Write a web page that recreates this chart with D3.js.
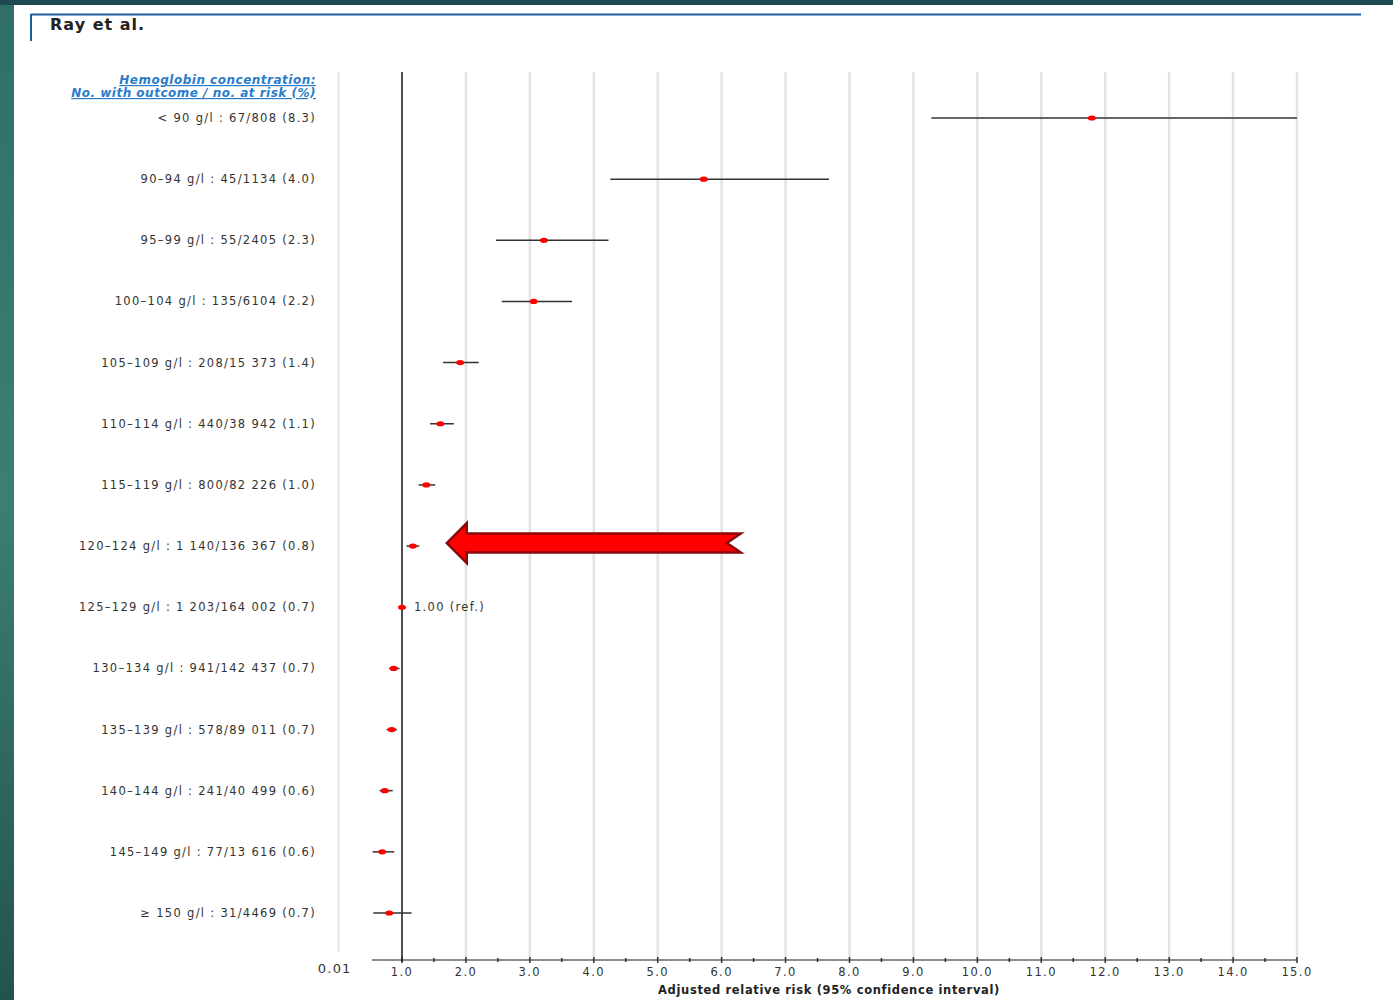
<!DOCTYPE html>
<html>
<head>
<meta charset="utf-8">
<script src="https://cdn.jsdelivr.net/npm/d3@7"></script>
<style>
  body { margin: 0; background: #fff; }
  svg { display: block; font-family: "DejaVu Sans", Verdana, sans-serif; }
</style>
</head>
<body>
<svg id="chart" width="1393" height="1000"></svg>
<script>
// hemoglobin groups, top to bottom
var groups = ["< 90", "90–94", "95–99", "100–104", "105–109", "110–114", "115–119",
              "120–124", "125–129", "130–134", "135–139", "140–144", "145–149", "≥ 150"];
var labels = [
  "< 90 g/l : 67/808 (8.3)",
  "90–94 g/l : 45/1134 (4.0)",
  "95–99 g/l : 55/2405 (2.3)",
  "100–104 g/l : 135/6104 (2.2)",
  "105–109 g/l : 208/15 373 (1.4)",
  "110–114 g/l : 440/38 942 (1.1)",
  "115–119 g/l : 800/82 226 (1.0)",
  "120–124 g/l : 1 140/136 367 (0.8)",
  "125–129 g/l : 1 203/164 002 (0.7)",
  "130–134 g/l : 941/142 437 (0.7)",
  "135–139 g/l : 578/89 011 (0.7)",
  "140–144 g/l : 241/40 499 (0.6)",
  "145–149 g/l : 77/13 616 (0.6)",
  "≥ 150 g/l : 31/4469 (0.7)"
];
var rr   = [11.79, 5.72, 3.22, 3.06, 1.91, 1.60, 1.38, 1.17, 1.00, 0.87, 0.84, 0.73, 0.69, 0.80];
var low  = [9.28, 4.26, 2.47, 2.56, 1.64, 1.44, 1.26, 1.07, 1.00, 0.80, 0.76, 0.65, 0.54, 0.55];
var high = [15.0, 7.68, 4.23, 3.66, 2.20, 1.81, 1.52, 1.27, 1.00, 0.96, 0.92, 0.855, 0.88, 1.15];
var refGroup = "125–129";
var arrowGroup = "120–124";
var arrowFrom = 1.7, arrowTo = 6.3;
var majorTicks = d3.range(1, 16);
var minorTicks = d3.range(1.5, 15, 1);

var svg = d3.select("#chart");

// slide background
var defs = svg.append("defs");
var lg = defs.append("linearGradient").attr("id", "side").attr("x1", 0).attr("y1", 0).attr("x2", 0).attr("y2", 1);
lg.append("stop").attr("offset", "0%").attr("stop-color", "#2f6f68");
lg.append("stop").attr("offset", "50%").attr("stop-color", "#3b7f74");
lg.append("stop").attr("offset", "100%").attr("stop-color", "#24534f");
svg.append("rect").attr("x", 0).attr("y", 0).attr("width", 14).attr("height", 1000).attr("fill", "url(#side)");
svg.append("rect").attr("x", 0).attr("y", 0).attr("width", 1393).attr("height", 5).attr("fill", "#1e4a50");

// title frame
svg.append("line").attr("x1", 31).attr("x2", 1361).attr("y1", 14.5).attr("y2", 14.5)
  .attr("stroke", "#1b5f9e").attr("stroke-width", 2);
svg.append("line").attr("x1", 31).attr("x2", 31).attr("y1", 14).attr("y2", 41)
  .attr("stroke", "#1b5f9e").attr("stroke-width", 2);
svg.append("text").attr("x", 50).attr("y", 30).attr("font-size", 16).attr("font-weight", "bold")
  .attr("fill", "#222").attr("letter-spacing", 1).text("Ray et al.");

var x = d3.scaleLinear().domain([1, 15]).range([402, 1297]);
var y = d3.scalePoint().domain(groups).range([118, 913]);
var plotTop = 72, plotBottom = 960;

// gridlines
svg.append("g").selectAll("line").data(majorTicks.slice(1)).join("line")
  .attr("x1", d => x(d)).attr("x2", d => x(d)).attr("y1", plotTop).attr("y2", plotBottom)
  .attr("stroke", "#e3e3e3").attr("stroke-width", 2.5);
svg.append("line").attr("x1", x(0.01)).attr("x2", x(0.01)).attr("y1", plotTop).attr("y2", 952)
  .attr("stroke", "#e6e6e6").attr("stroke-width", 2);

// axis
var ax = svg.append("g").attr("transform", "translate(0," + plotBottom + ")");
ax.append("line").attr("x1", x(0.53)).attr("x2", x(15)).attr("stroke", "#666").attr("stroke-width", 1.5);
ax.selectAll(".maj").data(majorTicks).join("line").attr("class", "maj")
  .attr("x1", d => x(d)).attr("x2", d => x(d)).attr("y1", -3).attr("y2", 3)
  .attr("stroke", "#333").attr("stroke-width", 1.5);
ax.selectAll(".min").data(minorTicks).join("line").attr("class", "min")
  .attr("x1", d => x(d)).attr("x2", d => x(d)).attr("y1", -2).attr("y2", 2)
  .attr("stroke", "#333").attr("stroke-width", 1.5);
ax.selectAll("text").data(majorTicks).join("text")
  .attr("x", d => x(d)).attr("y", 16).attr("text-anchor", "middle")
  .attr("font-size", 11.5).attr("letter-spacing", 1.4).attr("fill", "#333")
  .text(d3.format(".1f"));
svg.append("text").attr("x", x(0.01) - 4).attr("y", 973).attr("text-anchor", "middle")
  .attr("font-size", 13).attr("letter-spacing", 1.2).attr("fill", "#333").text("0.01");
svg.append("text").attr("x", 829).attr("y", 994).attr("text-anchor", "middle")
  .attr("font-size", 11.5).attr("letter-spacing", 0.65).attr("font-weight", "bold").attr("fill", "#222")
  .text("Adjusted relative risk (95% confidence interval)");

// reference line at 1
svg.append("line").attr("x1", x(1)).attr("x2", x(1)).attr("y1", plotTop).attr("y2", plotBottom + 2)
  .attr("stroke", "#222").attr("stroke-width", 1.6);

// header
var hdr = svg.append("g").attr("font-size", 12).attr("letter-spacing", 0.5)
  .attr("font-style", "italic").attr("font-weight", "bold")
  .attr("fill", "#2a7cc9").attr("text-anchor", "end").attr("text-decoration", "underline");
hdr.append("text").attr("x", 316).attr("y", 84).text("Hemoglobin concentration:");
hdr.append("text").attr("x", 316).attr("y", 97).text("No. with outcome / no. at risk (%)");

// row labels
svg.append("g").selectAll("text").data(groups).join("text")
  .attr("x", 316).attr("y", d => y(d) + 4).attr("text-anchor", "end")
  .attr("font-size", 11.5).attr("letter-spacing", 1.3).attr("fill", "#333")
  .text((d, i) => labels[i]);

// confidence intervals
svg.append("g").selectAll("line").data(groups).join("line")
  .attr("x1", (d, i) => x(low[i])).attr("x2", (d, i) => x(high[i]))
  .attr("y1", d => y(d)).attr("y2", d => y(d))
  .attr("stroke", "#333").attr("stroke-width", 1.5);

// point estimates
svg.append("g").selectAll("ellipse").data(groups).join("ellipse")
  .attr("cx", (d, i) => x(rr[i])).attr("cy", d => y(d))
  .attr("rx", 4).attr("ry", 2.6).attr("fill", "#ff0000");

svg.append("text").attr("x", x(1) + 12).attr("y", y(refGroup) + 4)
  .attr("font-size", 11.5).attr("letter-spacing", 1.3).attr("fill", "#333").text("1.00 (ref.)");

// red arrow pointing at the 120-124 row
var ay = y(arrowGroup) - 3, x0 = x(arrowFrom), x1 = x(arrowTo);
var arrowPts = [[x0, ay], [x0 + 20, ay - 20], [x0 + 20, ay - 9.5], [x1, ay - 9.5],
                [x1 - 14, ay], [x1, ay + 9.5], [x0 + 20, ay + 9.5], [x0 + 20, ay + 20]];
svg.append("path").attr("d", d3.line()(arrowPts) + "Z")
  .attr("fill", "#ff0000").attr("stroke", "#8a0a0a").attr("stroke-width", 2.5)
  .attr("stroke-linejoin", "miter");
</script>
</body>
</html>
